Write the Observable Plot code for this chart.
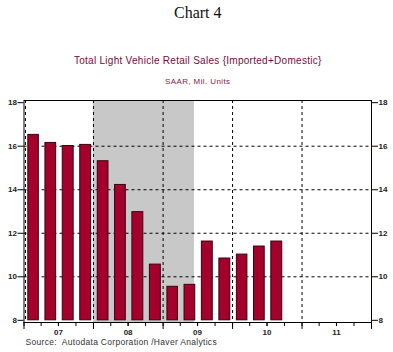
<!DOCTYPE html>
<html>
<head>
<meta charset="utf-8">
<script src="https://cdn.jsdelivr.net/npm/d3@7"></script>
<script src="https://cdn.jsdelivr.net/npm/@observablehq/plot@0.6"></script>
<style>
  html, body { margin: 0; padding: 0; background: #fff; }
</style>
</head>
<body>
<div id="chart"></div>
<script>
// ---- data ----
const quarters = ["2007-01","2007-04","2007-07","2007-10",
                  "2008-01","2008-04","2008-07","2008-10",
                  "2009-01","2009-04","2009-07","2009-10",
                  "2010-01","2010-04","2010-07"];
const sales = [16.52, 16.15, 16.01, 16.06, 15.31, 14.22, 12.97, 10.56,
               9.54, 9.63, 11.62, 10.84, 11.02, 11.39, 11.62];
const yTicks = [8, 10, 12, 14, 16, 18];
const yGrid = [10, 12, 14, 16];
const years = [2007, 2008, 2009, 2010, 2011, 2012];
const yearLabels = ["07", "08", "09", "10", "11"];
const recessionStart = ["2008-01-01"];
const recessionEnd = ["2009-06-15"];
const titleText = "Chart 4";
const subtitleText = "Total Light Vehicle Retail Sales {Imported+Domestic}";
const unitsText = "SAAR, Mil. Units";
const sourceText = "Source:  Autodata Corporation /Haver Analytics";

// ---- derived ----
const parseQ = d3.utcParse("%Y-%m");
const bars = quarters.map((q, i) => {
  const start = parseQ(q);
  return {start, end: d3.utcMonth.offset(start, 3), value: sales[i]};
});
const recession = recessionStart.map((s, i) => ({start: new Date(s), end: new Date(recessionEnd[i])}));
const yearDates = years.map(y => new Date(Date.UTC(y, 0, 1)));
const quarterDates = d3.utcMonth.every(3).range(yearDates[0], d3.utcDay.offset(yearDates[yearDates.length - 1], 1));
const midYears = years.slice(0, -1).map(y => new Date(Date.UTC(y, 6, 1)));

const font = "'Liberation Sans', Arial, sans-serif";
const ink = "#222";

const chart = Plot.plot({
  width: 393,
  height: 352,
  marginLeft: 23.5,
  marginRight: 22,
  marginTop: 100,
  marginBottom: 30,
  style: {fontFamily: font, fontSize: "8px", background: "#fff", color: ink},
  x: {type: "utc", domain: [yearDates[0], yearDates[yearDates.length - 1]], axis: null},
  y: {domain: [7.9, 18.1], axis: null},
  marks: [
    Plot.rect(recession, {x1: "start", x2: "end", fill: "#c8c8c8"}),
    Plot.gridY(yGrid, {stroke: "#000", strokeOpacity: 1, strokeDasharray: "3,3", strokeWidth: 1}),
    Plot.gridX(yearDates.slice(1, -1), {stroke: "#000", strokeOpacity: 1, strokeDasharray: "3,3", strokeWidth: 1}),
    Plot.gridX(yearDates.slice(0, 1), {stroke: "#000", strokeOpacity: 1, strokeDasharray: "3,3", strokeWidth: 1, dx: 1.5}),
    Plot.rectY(bars, {x1: "start", x2: "end", y1: 8, y2: "value", fill: "#a3002b", stroke: "#3a0010", strokeWidth: 1, insetLeft: 4.3, insetRight: 2.3}),
    Plot.frame({stroke: "#000", strokeWidth: 1}),
    Plot.axisY(yTicks, {anchor: "left", tickSize: 6, tickPadding: 1, fontSize: 8, fontWeight: "bold", stroke: "#000", fill: ink, label: null}),
    Plot.axisY(yTicks, {anchor: "right", tickSize: 6, tickPadding: 1, fontSize: 8, fontWeight: "bold", stroke: "#000", fill: ink, label: null}),
    Plot.axisX(quarterDates, {anchor: "bottom", tickSize: 4, tickFormat: () => "", stroke: "#000", label: null}),
    Plot.axisX(yearDates, {anchor: "bottom", tickSize: 7, tickFormat: () => "", stroke: "#000", label: null}),
    Plot.axisX(midYears, {anchor: "bottom", tickSize: 4, tickPadding: 3, fontSize: 8, fontWeight: "bold", fill: ink, stroke: "#000",
      tickFormat: d => yearLabels[d.getUTCFullYear() - years[0]], label: null}),
    Plot.text([titleText], {frameAnchor: "top", text: d => d, dy: -88, fontSize: 16, fontFamily: "'Liberation Serif', 'Times New Roman', serif", fill: "#111", lineAnchor: "middle"}),
    Plot.text([subtitleText], {frameAnchor: "top", text: d => d, dy: -40, fontSize: 10, fill: "#7a0a3a", lineAnchor: "middle"}),
    Plot.text([unitsText], {frameAnchor: "top", text: d => d, dy: -19, fontSize: 8, fill: "#8a1a48", lineAnchor: "middle"}),
    Plot.text([sourceText], {frameAnchor: "bottom-left", text: d => d, dx: 1.5, dy: 20, fontSize: 8.5, fill: "#333", textAnchor: "start", lineAnchor: "middle"})
  ]
});
// letter spacing to match the reference's wider text
const spacing = new Map([[subtitleText, 0.28], [unitsText, 0.4], [sourceText, 0.3]]);
d3.select(chart).selectAll("text").each(function() {
  const s = spacing.get(this.textContent);
  if (s != null) this.setAttribute("letter-spacing", s);
});
document.getElementById("chart").appendChild(chart);
</script>
</body>
</html>
